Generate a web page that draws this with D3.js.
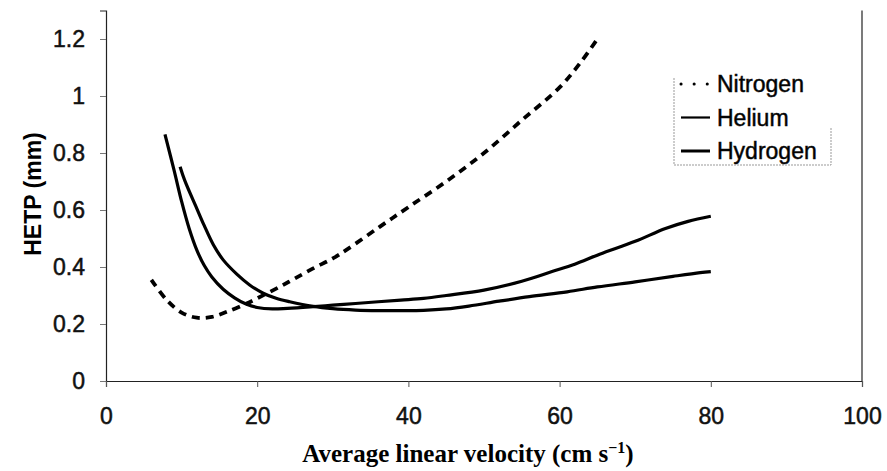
<!DOCTYPE html>
<html>
<head>
<meta charset="utf-8">
<script src="https://cdn.jsdelivr.net/npm/d3@7"></script>
<style>
  body { margin: 0; background: #fff; }
  svg { display: block; }
  .tick text { font-family: Arial, "Liberation Sans", sans-serif; font-size: 23px; fill: #111; stroke: #111; stroke-width: 0.5px; }
</style>
</head>
<body>
<svg id="chart" width="887" height="471"></svg>
<script>
// HETP vs average linear velocity for three carrier gases
var nitrogenU    = [6, 8, 10, 12, 14, 16, 18.6, 20, 23, 25, 27.4, 30, 31.8, 36.2, 40, 45, 50, 55, 60, 62.7, 65];
var nitrogenHetp = [0.355, 0.285, 0.24, 0.222, 0.225, 0.243, 0.272, 0.29, 0.331, 0.36, 0.395, 0.43, 0.46, 0.541, 0.61, 0.70, 0.80, 0.915, 1.03, 1.115, 1.2];

var heliumU    = [7.8, 9, 10, 11, 12, 13, 14, 15.5, 17, 18.6, 20, 22, 24, 27, 30, 33, 36, 39, 42, 45, 50, 55, 59, 62, 65.3, 70, 74, 77, 80];
var heliumHetp = [0.865, 0.74, 0.63, 0.535, 0.46, 0.405, 0.365, 0.322, 0.292, 0.269, 0.258, 0.253, 0.255, 0.26, 0.266, 0.272, 0.278, 0.284, 0.29, 0.30, 0.319, 0.35, 0.384, 0.41, 0.445, 0.49, 0.535, 0.56, 0.578];

var hydrogenU    = [9.8, 10.4, 12, 13, 14.2, 15.5, 17.3, 19, 20.8, 22.5, 24.3, 27.4, 30, 33, 36, 39, 42, 45, 48, 52, 56, 61, 65, 70, 75, 78.6, 80];
var hydrogenHetp = [0.752, 0.705, 0.606, 0.545, 0.478, 0.425, 0.375, 0.337, 0.308, 0.29, 0.278, 0.262, 0.254, 0.249, 0.247, 0.247, 0.248, 0.253, 0.263, 0.28, 0.296, 0.313, 0.33, 0.348, 0.367, 0.38, 0.384];

var seriesNames = ["Nitrogen", "Helium", "Hydrogen"];
var xTicks = [0, 20, 40, 60, 80, 100];
var yTicks = [0, 0.2, 0.4, 0.6, 0.8, 1, 1.2];

var svg = d3.select("#chart");

var x = d3.scaleLinear().domain([0, 100]).range([106, 862]);
var y = d3.scaleLinear().domain([0, 1.3]).range([381, 10.5]);

function zip(us, hs) {
  return us.map(function (u, i) { return [u, hs[i]]; });
}

var series = [
  { name: seriesNames[0], points: zip(nitrogenU, nitrogenHetp), width: 3.8, dash: "8,6" },
  { name: seriesNames[1], points: zip(heliumU, heliumHetp), width: 3.2, dash: null },
  { name: seriesNames[2], points: zip(hydrogenU, hydrogenHetp), width: 3.2, dash: null }
];

// axes
var yAxis = svg.append("g")
  .attr("transform", "translate(" + x(0) + ",0)")
  .call(d3.axisLeft(y).tickValues(yTicks).tickSize(6).tickPadding(15)
    .tickFormat(function (d) { return String(+d.toFixed(1)); }));
yAxis.select(".domain").attr("stroke", "#222").attr("stroke-width", 1.2);
yAxis.selectAll(".tick line").attr("stroke", "#777");

var xAxis = svg.append("g")
  .attr("transform", "translate(0," + y(0) + ")")
  .call(d3.axisBottom(x).tickValues(xTicks).tickSize(6).tickPadding(21));
xAxis.select(".domain").attr("stroke", "#222").attr("stroke-width", 1.2);
xAxis.selectAll(".tick line").attr("stroke", "#555");

// right frame line
svg.append("line")
  .attr("x1", x(100)).attr("x2", x(100))
  .attr("y1", y(1.3)).attr("y2", y(0))
  .attr("stroke", "#222").attr("stroke-width", 1.2);

// curves
var line = d3.line()
  .x(function (d) { return x(d[0]); })
  .y(function (d) { return y(d[1]); })
  .curve(d3.curveCatmullRom.alpha(0.5));

svg.selectAll("path.series")
  .data(series)
  .enter().append("path")
  .attr("class", "series")
  .attr("fill", "none")
  .attr("stroke", "#000")
  .attr("stroke-width", function (d) { return d.width; })
  .attr("stroke-dasharray", function (d) { return d.dash; })
  .attr("stroke-linejoin", "round")
  .attr("d", function (d) { return line(d.points); });

// axis titles
svg.append("text")
  .attr("transform", "translate(41,194) rotate(-90)")
  .attr("text-anchor", "middle")
  .style("font-family", "Arial, 'Liberation Sans', sans-serif")
  .style("font-weight", "bold")
  .style("font-size", "23px")
  .text("HETP (mm)");

var xTitle = svg.append("text")
  .attr("x", 468)
  .attr("y", 462)
  .attr("text-anchor", "middle")
  .style("font-family", "'Times New Roman', 'Liberation Serif', serif")
  .style("font-weight", "bold")
  .style("font-size", "25px");
xTitle.append("tspan").text("Average linear velocity (cm s");
xTitle.append("tspan").attr("dy", -9).style("font-size", "16px").text("\u22121");
xTitle.append("tspan").attr("dy", 9).text(")");

// legend
var LEGEND_X = 674, LEGEND_Y = 78, LEGEND_W = 157, LEGEND_H = 87;
var LEGEND_ROW = 33.5;

svg.append("path")
  .attr("d", "M" + LEGEND_X + "," + LEGEND_Y + "V" + (LEGEND_Y + LEGEND_H) +
    "H" + (LEGEND_X + LEGEND_W) + "V" + (LEGEND_Y + 50))
  .attr("fill", "none")
  .attr("stroke", "#999")
  .attr("stroke-width", 1)
  .attr("stroke-dasharray", "2,1");

var legendItem = svg.selectAll("g.legend-item")
  .data(series)
  .enter().append("g")
  .attr("class", "legend-item")
  .attr("transform", function (d, i) {
    return "translate(" + LEGEND_X + "," + (LEGEND_Y + 6 + i * LEGEND_ROW) + ")";
  });

legendItem.append("line")
  .attr("x1", 7).attr("x2", 36)
  .attr("y1", 0).attr("y2", 0)
  .attr("stroke", "#000")
  .attr("stroke-width", function (d, i) { return i === 0 ? 3 : (i === 1 ? 2.2 : 3); })
  .attr("stroke-linecap", function (d, i) { return i === 0 ? "round" : "butt"; })
  .attr("stroke-dasharray", function (d, i) { return i === 0 ? "0.1,13" : null; });

legendItem.append("text")
  .attr("x", 43)
  .attr("y", 8)
  .style("font-family", "Arial, 'Liberation Sans', sans-serif")
  .style("font-size", "23px")
  .style("stroke", "#111")
  .style("stroke-width", "0.5px")
  .text(function (d) { return d.name; });
</script>
</body>
</html>
